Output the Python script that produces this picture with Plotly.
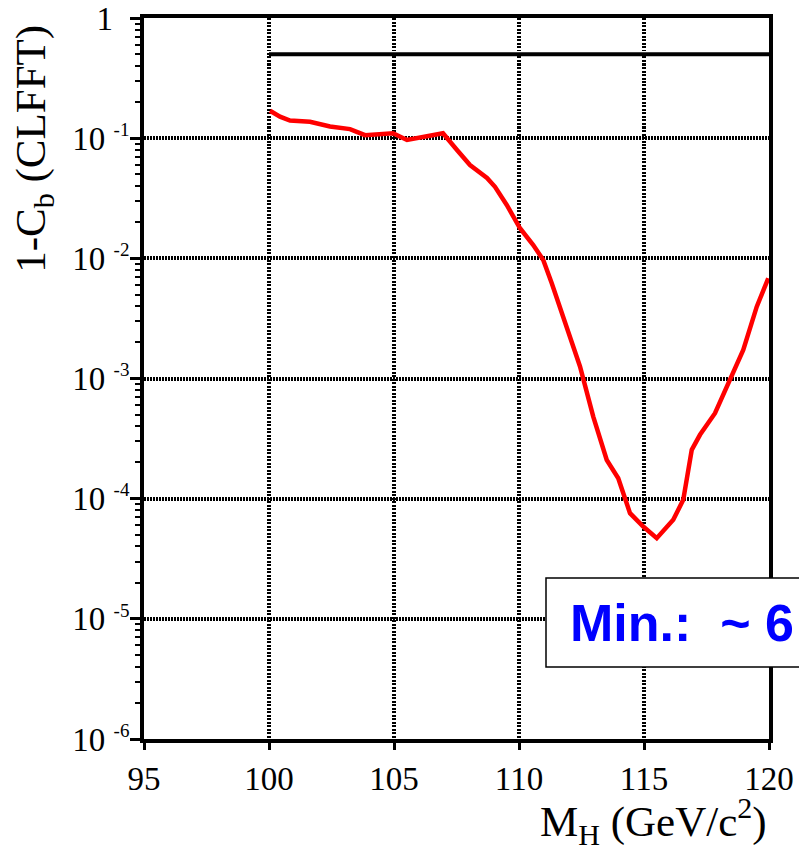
import plotly.graph_objects as go

# Data
mass = [100.04, 100.44, 100.84, 101.64, 102.44, 103.24, 103.84, 104.96, 105.52,
        106.44, 106.96, 107.52, 108.04, 108.72, 109.04, 109.51, 110.04, 110.57,
        110.97, 111.31, 111.77, 112.44, 112.97, 113.51, 113.97, 114.44, 114.97,
        115.51, 116.17, 116.57, 116.91, 117.24, 117.84, 118.31, 118.97, 119.51,
        119.97]
one_minus_cb = [0.169, 0.151, 0.140, 0.137, 0.125, 0.119, 0.106, 0.110, 0.0966,
                0.105, 0.110, 0.0798, 0.0598, 0.0467, 0.0394, 0.0278, 0.0178, 0.0129,
                0.0097, 0.0062, 0.00327, 0.00126, 0.000482, 0.000210, 0.000148, 7.57e-5, 5.86e-5,
                4.69e-5, 6.67e-5, 9.77e-5, 2.55e-4, 3.40e-4, 5.14e-4, 8.57e-4, 1.73e-3, 3.96e-3,
                6.82e-3]

ref_x = [100, 120]
ref_y = [0.5, 0.5]

x_ticks = [95, 100, 105, 110, 115, 120]
x_ticktext = ["95", "100", "105", "110", "115", "120"]
y_ticks = [1e-6, 1e-5, 1e-4, 1e-3, 1e-2, 1e-1, 1]
y_exponents = ["-6", "-5", "-4", "-3", "-2", "-1"]
y_ticktext = ["10&nbsp;<sup><span style='font-size:19px'>%s</span></sup>" % e
              for e in y_exponents] + ["1&nbsp;&nbsp;"]
y_minor = [m * d for d in [1e-6, 1e-5, 1e-4, 1e-3, 1e-2, 1e-1] for m in range(2, 10)]

annotation_text = "Min.:&nbsp;&nbsp;~ 6"

serif = "Liberation Serif"

fig = go.Figure()
fig.add_trace(go.Scatter(x=ref_x, y=ref_y, mode="lines",
                         line=dict(color="black", width=4), showlegend=False))
fig.add_trace(go.Scatter(x=mass, y=one_minus_cb, mode="lines",
                         line=dict(color="#ff0000", width=4.5), showlegend=False))

fig.update_layout(
    width=799, height=855,
    margin=dict(l=144, r=30, t=18, b=116),
    plot_bgcolor="white", paper_bgcolor="white",
    font=dict(family=serif, color="black"),
    showlegend=False,
)

fig.update_xaxes(
    range=[95, 120], tickmode="array", tickvals=x_ticks, ticktext=x_ticktext,
    ticks="outside", ticklen=7, tickwidth=3, tickcolor="black",
    showline=True, linewidth=4, linecolor="black", mirror=True, automargin=False,
    showgrid=True, gridcolor="black", gridwidth=4, griddash="2px,1.5px",
    zeroline=False, tickfont=dict(family=serif, size=33, color="black"),
)
fig.update_yaxes(
    type="log", range=[-6, 0], tickmode="array", tickvals=y_ticks, ticktext=y_ticktext,
    ticks="outside", ticklen=10, tickwidth=3, tickcolor="black",
    showline=True, linewidth=4, linecolor="black", mirror=True, automargin=False,
    showgrid=True, gridcolor="black", gridwidth=4, griddash="1.5px,1.5px",
    zeroline=False, tickfont=dict(family=serif, size=33, color="black"),
    ticklabelstandoff=-6,
    minor=dict(tickmode="array", tickvals=y_minor, ticks="outside", ticklen=5,
               tickwidth=2, tickcolor="black", showgrid=False),
)

# boxed label (extends beyond the right page edge as in the reference)
fig.add_shape(type="rect", xref="paper", yref="paper",
              x0=0.6432, x1=1.25, y0=0.0999, y1=0.2233,
              line=dict(color="black", width=1.5), fillcolor="white", layer="above")
fig.add_annotation(xref="paper", yref="paper", x=0.678, y=0.161,
                   xanchor="left", yanchor="middle", showarrow=False,
                   text=annotation_text,
                   font=dict(family="Liberation Sans", size=52, color="#0000ff", weight="bold"))

# axis titles
fig.add_annotation(xref="paper", yref="paper", x=1.0, y=-0.115,
                   xanchor="right", yanchor="middle", showarrow=False,
                   text="M<sub>H</sub> (GeV/c<sup>2</sup>)",
                   font=dict(family=serif, size=43, color="black"))
fig.add_annotation(xref="paper", yref="paper", x=-0.175, y=0.818,
                   xanchor="center", yanchor="middle", showarrow=False, textangle=-90,
                   text="1-C<sub>b</sub> (CLFFT)",
                   font=dict(family=serif, size=43, color="black"))

fig.write_html("out.html")
